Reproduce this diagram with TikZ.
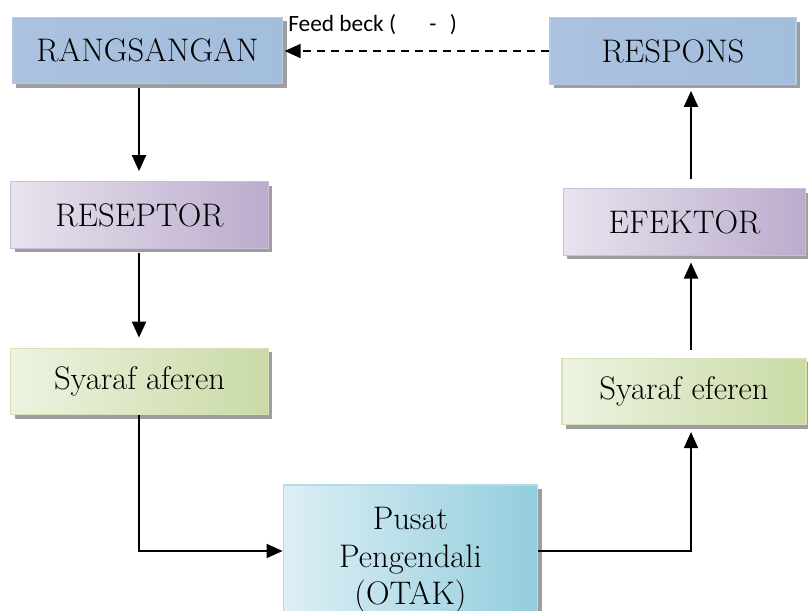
\documentclass[tikz,border=0pt]{standalone}
\usepackage{fontspec}
\newfontfamily\feedfont{Carlito}
\usetikzlibrary{arrows.meta,shadows}

\definecolor{blueLight}{HTML}{DCE6F2}
\definecolor{blueDark}{HTML}{95B3D7}
\definecolor{violetLight}{HTML}{E8E3EE}
\definecolor{violetDark}{HTML}{B3A2C7}
\definecolor{greenLight}{HTML}{EDF3E1}
\definecolor{greenDark}{HTML}{C3D69B}
\definecolor{tealLight}{HTML}{DDEFF5}
\definecolor{tealDark}{HTML}{93CDDD}

\begin{document}
\begin{tikzpicture}[x=0.75pt, y=-0.75pt, >={Triangle[length=12pt,width=10.5pt]},
  box/.style={minimum height=50pt, inner sep=0pt, align=center,
    font=\fontsize{24.5}{28}\selectfont, line width=0.8pt,
    general shadow={fill=black!38, shadow xshift=3pt, shadow yshift=-3pt}},
  bluebox/.style={box, draw=blueDark!70, left color=blueDark!70!blueLight, middle color=blueLight, right color=blueDark!80!blueLight},
  violetbox/.style={box, draw=violetDark!70, left color=violetLight, middle color=violetLight, right color=violetDark!85!violetLight},
  greenbox/.style={box, draw=greenDark!70, left color=greenLight, middle color=greenLight, right color=greenDark!85!greenLight},
  tealbox/.style={box, draw=tealDark!70, left color=tealLight, middle color=tealLight!60!tealDark, right color=tealDark},
  conn/.style={->, line width=1.5pt}]
  \useasboundingbox (0,0) rectangle (808,611);

  % Left column: stimulus side
  \node[bluebox, minimum width=203pt] (rang) at (147.5,50.5) {RANGSANGAN};
  \node[violetbox, minimum width=193pt] (reseptor) at (139.5,215) {RESEPTOR};
  \node[greenbox, minimum width=193pt] (aferen) at (139.5,381.5) {Syaraf aferen};

  % Right column: response side
  \node[bluebox, minimum width=184.5pt] (respons) at (673,51) {RESPONS};
  \node[violetbox, minimum width=182pt] (efektor) at (684.5,222) {EFEKTOR};
  \node[greenbox, minimum width=183pt] (eferen) at (684,391.5) {Syaraf eferen};

  % Bottom: control centre
  \node[tealbox, minimum width=191pt, minimum height=112.5pt] (pusat) at (410.5,560)
    {Pusat\\Pengendali\\(OTAK)};

  \coordinate (lcol) at (139,0);
  \coordinate (rcol) at (691,0);

  % Connectors
  \draw[conn, shorten <=3pt, shorten >=7.5pt] (rang.south -| lcol) -- (reseptor.north -| lcol);
  \draw[conn, shorten <=3pt, shorten >=7.5pt] (reseptor.south -| lcol) -- (aferen.north -| lcol);
  \draw[conn, line width=1.2pt] (aferen.south -| lcol) |- ([yshift=6.75pt]pusat.west);
  \draw[conn, line width=1.2pt, shorten >=5pt] ([yshift=6.75pt]pusat.east) -| (eferen.south -| rcol);
  \draw[conn, shorten <=6pt, shorten >=5pt] (eferen.north -| rcol) -- (efektor.south -| rcol);
  \draw[conn, shorten <=6.5pt, shorten >=4.5pt] (efektor.north -| rcol) -- (respons.south -| rcol);
  \draw[conn, dashed, dash pattern=on 6pt off 4.5pt, shorten >=1pt] (respons.west) -- (respons.west -| rang.east);
  \node[anchor=west, inner sep=0pt, font=\feedfont\fontsize{17.5}{20}\selectfont] (feed) at (288,25)
    {Feed beck (\hspace{25pt}-\hspace{10pt})};
\end{tikzpicture}
\end{document}
